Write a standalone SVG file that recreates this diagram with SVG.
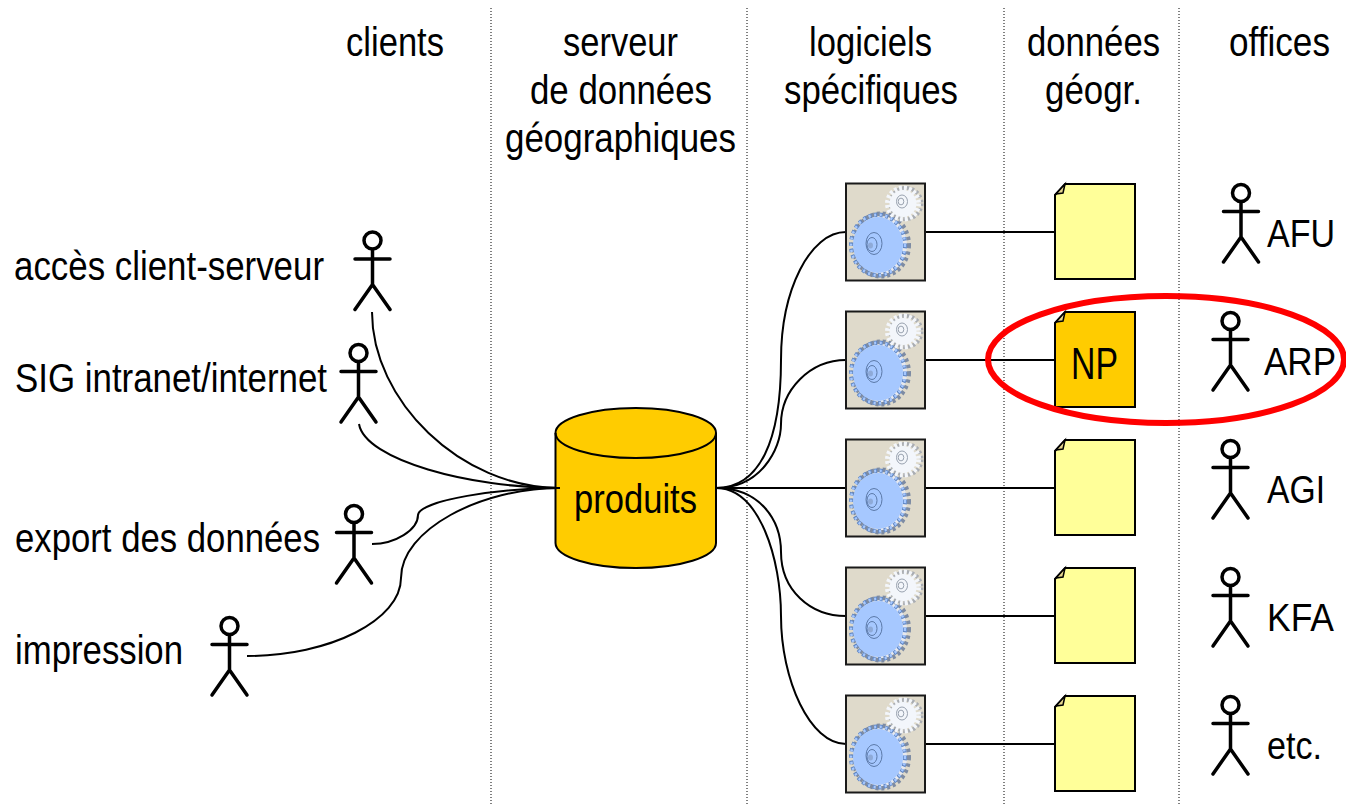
<svg xmlns="http://www.w3.org/2000/svg" width="1346" height="805" viewBox="0 0 1346 805">
<style>
text{font-family:"Liberation Sans",Arial,sans-serif;font-size:41px;fill:#000}
.off{font-size:39px}
.sep{stroke:#000;stroke-width:1;stroke-dasharray:1 2;fill:none}
.c{fill:none;stroke:#000;stroke-width:2}
.fig{fill:none;stroke:#000;stroke-width:3.500;stroke-linecap:round}
.note{stroke:#000;stroke-width:2;stroke-linejoin:miter}
.fold{fill:#e8d890;stroke:#000;stroke-width:1.500}
</style>
<defs>
<g id="actor" class="fig"><circle cx="0" cy="0" r="8.500"/><path d="M0 9V44M-17.500 18.500H17.500M0 44L-17.500 69M0 44L17.500 69"/></g>
<g id="app">
<rect x="0" y="0" width="79" height="97" fill="#dfdacb" stroke="#1a1a1a" stroke-width="2"/>
<g transform="translate(32 61.500) scale(1 1.120)">
<circle cx="3" cy="0" r="26" fill="#e6e8ee"/>
<circle cx="3" cy="0" r="28" fill="none" stroke="#7d8ba3" stroke-width="4" stroke-dasharray="3 2.800"/>
<circle cx="0" cy="0" r="27" fill="none" stroke="#5f86c4" stroke-width="4" stroke-dasharray="3 2.600"/>
<circle cx="0" cy="0" r="27" fill="none" stroke="#a6c8ff" stroke-width="2.500" stroke-dasharray="2 3.600"/>
<circle cx="0" cy="0" r="25" fill="#a6c8ff"/>
</g>
<ellipse cx="28" cy="60" rx="8" ry="11" fill="none" stroke="#5b79a8" stroke-width="1"/>
<ellipse cx="26" cy="61" rx="5" ry="7" fill="none" stroke="#5b79a8" stroke-width="1"/>
<ellipse cx="24.500" cy="62" rx="2.500" ry="3" fill="#8eaad8"/>
<circle cx="60" cy="20" r="15.500" fill="none" stroke="#a9adb3" stroke-width="4" stroke-dasharray="2.500 2.400"/>
<circle cx="57" cy="20" r="15.500" fill="none" stroke="#f3f6fb" stroke-width="5" stroke-dasharray="2.800 2.100"/>
<circle cx="57" cy="20" r="13.500" fill="#f3f6fb"/>
<ellipse cx="56" cy="18" rx="5.500" ry="6.500" fill="none" stroke="#9aa3b0" stroke-width="1"/>
<ellipse cx="55" cy="18" rx="2.800" ry="3.400" fill="none" stroke="#9aa3b0" stroke-width="1"/>
</g>
<g id="foldmark"><path class="fold" d="M1 10L10 0L8 9Z"/></g>
</defs>

<g id="separators">
<path class="sep" d="M491 8V805M747 8V805M1004 8V805M1179 8V805"/>
</g>

<g id="headers">
<text x="346" y="56" textLength="98" lengthAdjust="spacingAndGlyphs">clients</text>
<text x="563" y="56" textLength="115" lengthAdjust="spacingAndGlyphs">serveur</text>
<text x="530" y="104" textLength="182" lengthAdjust="spacingAndGlyphs">de données</text>
<text x="505" y="152" textLength="231" lengthAdjust="spacingAndGlyphs">géographiques</text>
<text x="809" y="56" textLength="123" lengthAdjust="spacingAndGlyphs">logiciels</text>
<text x="784" y="104" textLength="174" lengthAdjust="spacingAndGlyphs">spécifiques</text>
<text x="1027" y="56" textLength="133" lengthAdjust="spacingAndGlyphs">données</text>
<text x="1045" y="104" textLength="97" lengthAdjust="spacingAndGlyphs">géogr.</text>
<text x="1229" y="56" textLength="101" lengthAdjust="spacingAndGlyphs">offices</text>
</g>

<g id="connectors">
<path class="c" d="M372 312C372 400 460 488 560 488"/>
<path class="c" d="M359 424C365 460 470 488 560 488"/>
<path class="c" d="M372 544C395 544 418 530 418 515C420 500 500 488 560 488"/>
<path class="c" d="M247 656C330 656 401 620 401 578C401 530 480 488 560 488"/>
<path class="c" d="M716 488C760 488 781 440 781 360C781 290 810 232 846 232"/>
<path class="c" d="M716 488C760 488 781 450 781 424C781 390 810 360 846 360"/>
<path class="c" d="M716 488H846"/>
<path class="c" d="M716 488C760 488 781 520 781 552C781 590 810 616 846 616"/>
<path class="c" d="M716 488C760 488 781 560 781 616C781 680 810 744 846 744"/>
<path class="c" d="M925 232H1055M925 360H1055M925 488H1055M925 616H1055M925 744H1055"/>
</g>

<g id="client-acces"><text x="14" y="280" textLength="310" lengthAdjust="spacingAndGlyphs">accès client-serveur</text><use href="#actor" x="372.500" y="240.500"/></g>
<g id="client-sig"><text x="15" y="392" textLength="312" lengthAdjust="spacingAndGlyphs">SIG intranet/internet</text><use href="#actor" x="358.500" y="353"/></g>
<g id="client-export"><text x="15" y="552" textLength="305" lengthAdjust="spacingAndGlyphs">export des données</text><use href="#actor" x="354" y="514"/></g>
<g id="client-impression"><text x="15" y="664" textLength="168" lengthAdjust="spacingAndGlyphs">impression</text><use href="#actor" x="229.500" y="626"/></g>

<g id="db-produits">
<path d="M555.500 433A80 25 0 0 1 716 433V543A80 25 0 0 1 555.500 543Z" fill="#ffcc00" stroke="#000" stroke-width="2"/>
<path d="M555.500 433A80 25 0 0 0 716 433" fill="none" stroke="#000" stroke-width="2"/>
<path d="M540 488H560M716 488H725" stroke="#000" stroke-width="2"/>
<text x="574" y="513" textLength="123" lengthAdjust="spacingAndGlyphs">produits</text>
</g>

<g id="app-1"><use href="#app" x="846" y="183.500"/></g>
<g id="app-2"><use href="#app" x="846" y="311.500"/></g>
<g id="app-3"><use href="#app" x="846" y="439.500"/></g>
<g id="app-4"><use href="#app" x="846" y="567.500"/></g>
<g id="app-5"><use href="#app" x="846" y="695.500"/></g>

<g id="data-1"><path class="note" d="M1065 184H1135V279H1055V195Z" fill="#ffff99"/><use href="#foldmark" x="1055" y="184"/></g>
<g id="data-2"><path class="note" d="M1065 312H1135V407H1055V323Z" fill="#ffcc00"/><use href="#foldmark" x="1055" y="312"/><text x="1071" y="379" textLength="47" lengthAdjust="spacingAndGlyphs" style="font-size:44px">NP</text></g>
<g id="data-3"><path class="note" d="M1065 440H1135V535H1055V451Z" fill="#ffff99"/><use href="#foldmark" x="1055" y="440"/></g>
<g id="data-4"><path class="note" d="M1065 568H1135V663H1055V579Z" fill="#ffff99"/><use href="#foldmark" x="1055" y="568"/></g>
<g id="data-5"><path class="note" d="M1065 696H1135V791H1055V707Z" fill="#ffff99"/><use href="#foldmark" x="1055" y="696"/></g>

<g id="office-afu"><use href="#actor" x="1241" y="193"/><text class="off" x="1267" y="247" textLength="68" lengthAdjust="spacingAndGlyphs">AFU</text></g>
<g id="office-arp"><use href="#actor" x="1230.500" y="321"/><text class="off" x="1264" y="375" textLength="72" lengthAdjust="spacingAndGlyphs">ARP</text></g>
<g id="office-agi"><use href="#actor" x="1230.500" y="449"/><text class="off" x="1267" y="503" textLength="58" lengthAdjust="spacingAndGlyphs">AGI</text></g>
<g id="office-kfa"><use href="#actor" x="1230.500" y="577"/><text class="off" x="1267" y="631" textLength="67" lengthAdjust="spacingAndGlyphs">KFA</text></g>
<g id="office-etc"><use href="#actor" x="1230.500" y="705"/><text class="off" x="1267" y="759" textLength="55" lengthAdjust="spacingAndGlyphs">etc.</text></g>

<g id="highlight"><ellipse cx="1166" cy="359.500" rx="178" ry="63.500" fill="none" stroke="#ff0000" stroke-width="6"/></g>
</svg>
